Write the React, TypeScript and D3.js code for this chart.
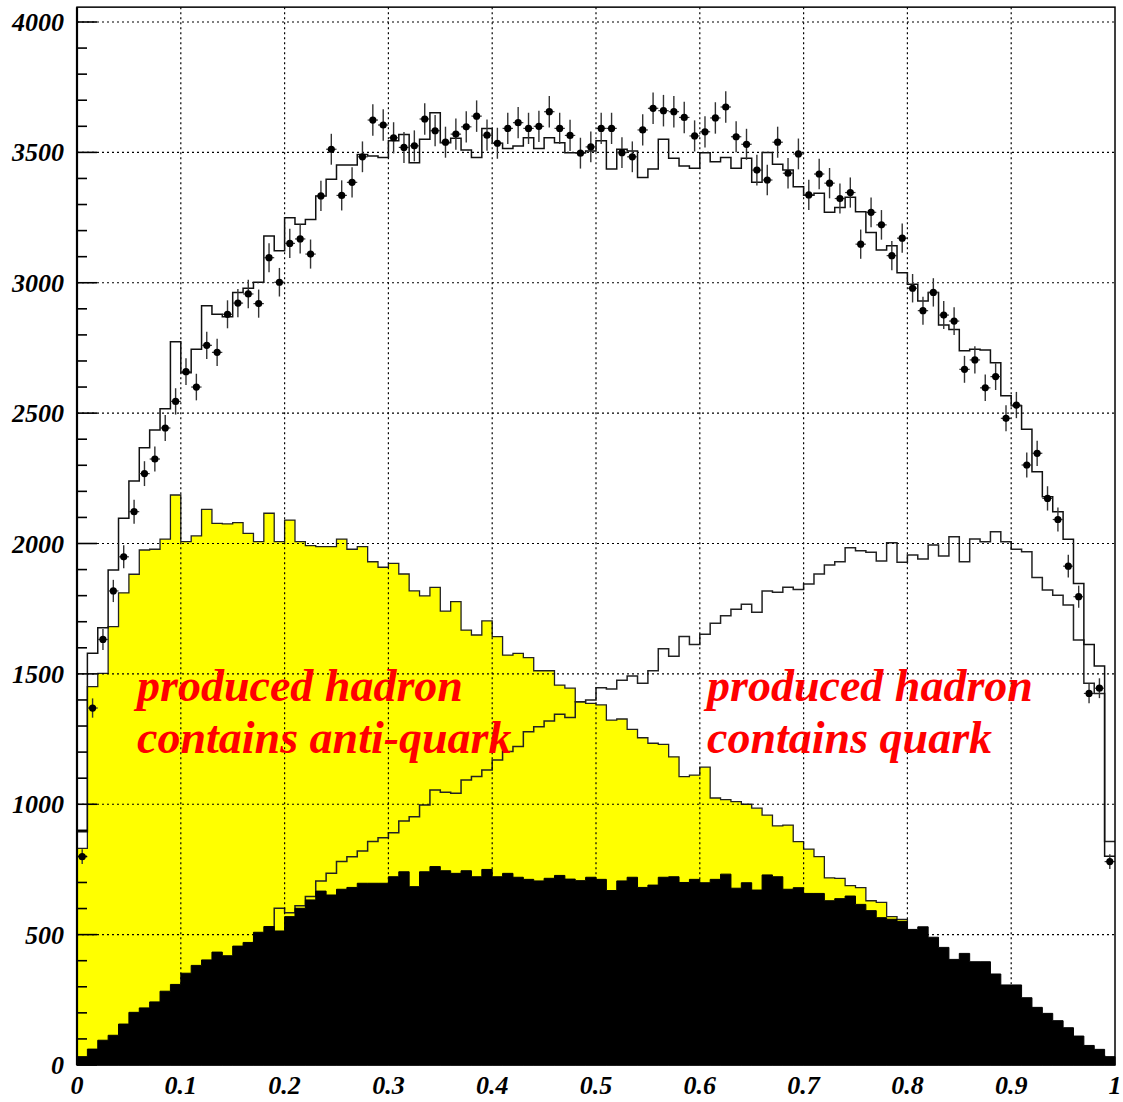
import React from "react";
import * as d3 from "d3";

// 100 bins of width 0.01 on [0, 1]
const binLow = d3.range(100).map((i) => i / 100);

// measured data (points with error bars)
const dataCounts = [
  799, 1369, 1632, 1818, 1949, 2122, 2268, 2324, 2443, 2545,
  2659, 2600, 2760, 2733, 2879, 2922, 2957, 2920, 3096, 3002,
  3151, 3168, 3110, 3333, 3512, 3335, 3385, 3483, 3624, 3605,
  3556, 3519, 3525, 3628, 3583, 3539, 3570, 3598, 3639, 3566,
  3535, 3592, 3614, 3592, 3600, 3656, 3592, 3565, 3497, 3521,
  3592, 3592, 3499, 3483, 3586, 3669, 3660, 3656, 3634, 3563,
  3579, 3632, 3674, 3560, 3531, 3432, 3394, 3539, 3420, 3494,
  3337, 3417, 3382, 3323, 3346, 3148, 3270, 3222, 3104, 3171,
  2979, 2893, 2963, 2876, 2853, 2668, 2704, 2597, 2640, 2480,
  2531, 2301, 2346, 2173, 2092, 1913, 1796, 1425, 1445, 780,
];

// total simulation (open step line)
const totalMC = [
  895, 1579, 1677, 1898, 2097, 2240, 2367, 2435, 2517, 2774,
  2655, 2745, 2912, 2879, 2870, 2963, 2979, 3002, 3179, 3123,
  3249, 3224, 3243, 3333, 3397, 3452, 3452, 3492, 3486, 3480,
  3545, 3569, 3460, 3550, 3652, 3537, 3554, 3509, 3480, 3592,
  3535, 3515, 3524, 3556, 3515, 3556, 3537, 3499, 3499, 3505,
  3545, 3436, 3512, 3505, 3404, 3436, 3550, 3477, 3448, 3439,
  3499, 3464, 3480, 3439, 3477, 3385, 3500, 3454, 3432, 3368,
  3336, 3343, 3270, 3289, 3328, 3272, 3193, 3126, 3142, 3038,
  2994, 2930, 2963, 2838, 2821, 2739, 2745, 2742, 2693, 2567,
  2528, 2438, 2275, 2179, 2122, 2016, 1847, 1613, 1530, 801,
];

// hadron contains anti-quark (yellow)
const antiQuarkMC = [
  831, 1451, 1502, 1681, 1811, 1882, 1975, 1978, 2017, 2186,
  2007, 2029, 2131, 2077, 2075, 2080, 2039, 2007, 2116, 2007,
  2090, 2007, 1992, 1988, 1988, 2017, 1978, 1988, 1930, 1909,
  1924, 1883, 1818, 1799, 1832, 1741, 1777, 1668, 1649, 1703,
  1643, 1572, 1579, 1562, 1512, 1512, 1457, 1445, 1393, 1387,
  1381, 1323, 1327, 1287, 1255, 1234, 1230, 1182, 1106, 1112,
  1142, 1024, 1018, 1010, 1000, 985, 958, 917, 920, 857,
  828, 799, 718, 716, 688, 680, 630, 624, 569, 558,
  500, 460, 420, 380, 340, 310, 280, 250, 220, 190,
  170, 150, 130, 110, 95, 80, 60, 45, 35, 20,
];

// hadron contains quark (open step line)
const quarkMC = [
  10, 30, 55, 75, 100, 130, 150, 180, 210, 240,
  270, 300, 330, 360, 380, 410, 440, 470, 500, 601,
  584, 611, 646, 706, 735, 780, 799, 821, 857, 872,
  891, 936, 952, 997, 1055, 1046, 1042, 1093, 1106, 1131,
  1170, 1202, 1221, 1278, 1297, 1319, 1345, 1333, 1393, 1400,
  1447, 1442, 1476, 1492, 1464, 1512, 1596, 1568, 1643, 1613,
  1652, 1694, 1723, 1748, 1767, 1736, 1818, 1813, 1832, 1824,
  1845, 1883, 1918, 1930, 1984, 1972, 1966, 1933, 2003, 1928,
  1956, 1941, 1994, 1952, 2026, 1930, 2017, 2007, 2045, 2007,
  1978, 1968, 1870, 1822, 1802, 1764, 1630, 1464, 1425, 857,
];

// remaining component (black)
const otherMC = [
  32, 61, 95, 114, 157, 202, 219, 242, 283, 309,
  352, 382, 403, 433, 419, 456, 470, 509, 531, 514,
  569, 601, 633, 667, 652, 674, 681, 697, 697, 697,
  722, 741, 684, 741, 761, 745, 735, 745, 722, 750,
  722, 735, 720, 712, 706, 716, 727, 713, 707, 720,
  712, 669, 706, 720, 681, 690, 720, 722, 700, 712,
  699, 712, 732, 678, 699, 671, 729, 722, 674, 680,
  658, 658, 630, 638, 648, 616, 592, 565, 559, 550,
  520, 530, 490, 451, 405, 428, 396, 396, 349, 307,
  307, 258, 221, 198, 170, 143, 111, 75, 60, 32,
];

const xTicks = [0, 0.1, 0.2, 0.3, 0.4, 0.5, 0.6, 0.7, 0.8, 0.9, 1];
const xTickLabels = ["0", "0.1", "0.2", "0.3", "0.4", "0.5", "0.6", "0.7", "0.8", "0.9", "1"];
const yTicks = [0, 500, 1000, 1500, 2000, 2500, 3000, 3500, 4000];

const BIN_W = 0.01;
const Y_MAX = 4057;

const labelFont = "'Liberation Serif', 'Times New Roman', serif";

export default function App() {
  const width = 1123;
  const height = 1102;

  const x = d3.scaleLinear().domain([0, 1]).range([77, 1115]);
  const y = d3.scaleLinear().domain([0, 4000]).range([1065, 22]);

  const stepPoints = (vals: number[]) => {
    const pts = vals.map((v, i) => [binLow[i], v] as [number, number]);
    pts.push([binLow[vals.length - 1] + BIN_W, vals[vals.length - 1]]);
    return pts;
  };

  const line = d3
    .line<[number, number]>()
    .x((d) => x(d[0]))
    .y((d) => y(d[1]))
    .curve(d3.curveStepAfter);

  const area = d3
    .area<[number, number]>()
    .x((d) => x(d[0]))
    .y0(y(0))
    .y1((d) => y(d[1]))
    .curve(d3.curveStepAfter);

  const minorY = d3.range(0, Y_MAX, 100);

  return (
    <svg
      width={width}
      height={height}
      style={{ position: "absolute", left: 0, top: 0, background: "#fff" }}
    >
      <rect x={0} y={0} width={width} height={height} fill="#fff" />

      {/* yellow: anti-quark */}
      <path d={area(stepPoints(antiQuarkMC)) || ""} fill="#ffff00" />
      <path d={line(stepPoints(antiQuarkMC)) || ""} fill="none" stroke="#222" strokeWidth={1.3} />

      {/* quark line */}
      <path d={line(stepPoints(quarkMC)) || ""} fill="none" stroke="#222" strokeWidth={1.5} />

      {/* black component */}
      <path d={area(stepPoints(otherMC)) || ""} fill="#000" stroke="#000" strokeWidth={1} />

      {/* grid */}
      <g stroke="#000" strokeWidth={1.2} strokeDasharray="2 3">
        {xTicks.slice(1, -1).map((t) => (
          <line key={"gx" + t} x1={x(t)} x2={x(t)} y1={y(Y_MAX)} y2={y(0)} />
        ))}
        {yTicks.slice(1).map((t) => (
          <line key={"gy" + t} x1={x(0)} x2={x(1)} y1={y(t)} y2={y(t)} />
        ))}
      </g>

      {/* total MC */}
      <path d={line(stepPoints(totalMC)) || ""} fill="none" stroke="#111" strokeWidth={1.5} />

      {/* data points */}
      <g>
        {dataCounts.map((v, i) => {
          const cx = x(binLow[i] + BIN_W / 2);
          const cy = y(v);
          const err = Math.sqrt(v);
          return (
            <g key={"d" + i}>
              <line x1={cx} x2={cx} y1={y(v + err)} y2={y(v - err)} stroke="#333" strokeWidth={1.4} />
              <line x1={x(binLow[i])} x2={x(binLow[i] + BIN_W)} y1={cy} y2={cy} stroke="#333" strokeWidth={1.2} />
              <circle cx={cx} cy={cy} r={3.6} fill="#000" />
            </g>
          );
        })}
      </g>

      {/* annotations */}
      <g fill="#ff0000" fontFamily={labelFont} fontWeight="bold" fontStyle="italic" fontSize={46}>
        <text x={137} y={701}>produced hadron</text>
        <text x={137} y={753}>contains anti-quark</text>
        <text x={707} y={701}>produced hadron</text>
        <text x={707} y={753}>contains quark</text>
      </g>

      {/* frame */}
      <rect
        x={x(0)}
        y={y(Y_MAX)}
        width={x(1) - x(0)}
        height={y(0) - y(Y_MAX)}
        fill="none"
        stroke="#000"
        strokeWidth={1.5}
      />
      <line x1={x(0)} x2={x(0)} y1={y(Y_MAX)} y2={y(0)} stroke="#000" strokeWidth={2.2} />

      {/* y axis ticks */}
      <g stroke="#000" strokeWidth={1.6}>
        {minorY.map((t) => {
          const major = t % 500 === 0;
          return (
            <line key={"ty" + t} x1={x(0)} x2={x(0) + (major ? 20 : 10)} y1={y(t)} y2={y(t)} />
          );
        })}
      </g>

      {/* tick labels */}
      <g fontFamily={labelFont} fontWeight="bold" fontStyle="italic" fontSize={26} fill="#000">
        {yTicks.map((t) => (
          <text key={"ly" + t} x={64} y={y(t) + 9} textAnchor="end">
            {t}
          </text>
        ))}
        {xTicks.map((t, i) => (
          <text key={"lx" + t} x={x(t)} y={1094} textAnchor="middle">
            {xTickLabels[i]}
          </text>
        ))}
      </g>
    </svg>
  );
}
